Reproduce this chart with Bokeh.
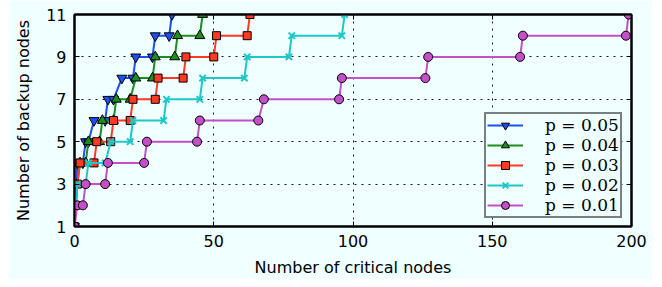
from bokeh.plotting import figure
from bokeh.models import Range1d, LinearAxis, FixedTicker, Legend, LegendItem
from bokeh.embed import file_html
from bokeh.resources import INLINE

# ---- data ----
x_p05 = [0, 1, 3, 4, 5, 7, 11, 12, 14, 17, 21, 22, 28, 29, 34, 35]
y_p05 = [1, 4, 4, 5, 5, 6, 6, 7, 7, 8, 8, 9, 9, 10, 10, 11]

x_p04 = [0, 1, 2, 4, 5, 9, 10, 14, 15, 20, 22, 28, 29, 36, 37, 45, 46]
y_p04 = [1, 3, 4, 4, 5, 5, 6, 6, 7, 7, 8, 8, 9, 9, 10, 10, 11]

x_p03 = [0, 1, 2, 7, 8, 13, 14, 20, 21, 29, 30, 39, 40, 50, 51, 62, 63]
y_p03 = [1, 3, 4, 4, 5, 5, 6, 6, 7, 7, 8, 8, 9, 9, 10, 10, 11]

x_p02 = [0, 1, 4, 5, 11, 13, 20, 21, 32, 33, 45, 46, 61, 62, 77, 78, 96, 97]
y_p02 = [1, 3, 3, 4, 4, 5, 5, 6, 6, 7, 7, 8, 8, 9, 9, 10, 10, 11]

x_p01 = [0, 1, 3, 4, 11, 12, 25, 26, 44, 45, 66, 68, 95, 96, 126, 127, 160, 161, 198, 199]
y_p01 = [1, 2, 2, 3, 3, 4, 4, 5, 5, 6, 6, 7, 7, 8, 8, 9, 9, 10, 10, 11]

labels = ["p = 0.05", "p = 0.04", "p = 0.03", "p = 0.02", "p = 0.01"]
x_ticks = [0, 50, 100, 150, 200]
y_ticks = [1, 3, 5, 7, 9, 11]

series = [
    (x_p05, y_p05, "#1a50f0", "inverted_triangle", 10),
    (x_p04, y_p04, "#1e8c1e", "triangle", 10),
    (x_p03, y_p03, "#ff3a22", "square", 8),
    (x_p02, y_p02, "#1ec8c8", "x", 9),
    (x_p01, y_p01, "#c450c8", "circle", 9),
]

BG = "#f0ffff"

p = figure(width=644, height=279, output_backend="svg", toolbar_location=None,
           x_range=Range1d(0, 200), y_range=Range1d(1, 11),
           min_border_left=66, min_border_right=21, min_border_top=14, min_border_bottom=48)
p.margin = (0, 0, 0, 8)
p.background_fill_color = BG
p.border_fill_color = BG
p.outline_line_color = "black"
p.outline_line_width = 2

# axes
for ax in (p.xaxis[0], p.yaxis[0]):
    ax.major_tick_in = 5
    ax.major_tick_out = 0
    ax.minor_tick_line_color = None
    ax.axis_line_width = 2
    ax.axis_line_color = "black"
    ax.major_tick_line_color = "black"
    ax.major_tick_line_width = 1
    ax.major_label_text_font = "DejaVu Sans"
    ax.major_label_text_font_size = "16px"
    ax.major_label_text_color = "black"
    ax.axis_label_text_font = "DejaVu Sans"
    ax.axis_label_text_font_size = "16px"
    ax.axis_label_text_font_style = "normal"
    ax.axis_label_text_color = "black"

p.xaxis[0].ticker = FixedTicker(ticks=x_ticks)
p.yaxis[0].ticker = FixedTicker(ticks=y_ticks)
p.xaxis[0].axis_label = "Number of critical nodes"
p.yaxis[0].axis_label = "Number of backup nodes"
p.xaxis[0].major_label_standoff = 8
p.xaxis[0].axis_label_standoff = 8
p.yaxis[0].major_label_standoff = 8
p.yaxis[0].axis_label_standoff = 10

top = LinearAxis(ticker=FixedTicker(ticks=x_ticks), major_label_text_color=None,
                 major_label_text_font_size="1px",
                 major_tick_in=5, major_tick_out=0, minor_tick_line_color=None,
                 axis_line_width=2, major_label_standoff=0)
right = LinearAxis(ticker=FixedTicker(ticks=y_ticks), major_label_text_color=None,
                   major_label_text_font_size="1px",
                   major_tick_in=5, major_tick_out=0, minor_tick_line_color=None,
                   axis_line_width=2, major_label_standoff=0)
p.add_layout(top, "above")
p.add_layout(right, "right")

# grid
p.xgrid.ticker = FixedTicker(ticks=x_ticks)
p.ygrid.ticker = FixedTicker(ticks=y_ticks)
for g in (p.xgrid[0], p.ygrid[0]):
    g.grid_line_color = "black"
    g.grid_line_dash = "2 5"
    g.grid_line_width = 1
    g.grid_line_alpha = 0.9

items = []
for (xs, ys, col, marker, size), lab in zip(series, labels):
    ln = p.line(xs, ys, line_color=col, line_width=2)
    if marker == "x":
        sc = p.scatter(xs, ys, marker="x", size=size, line_color=col, line_width=2)
    else:
        sc = p.scatter(xs, ys, marker=marker, size=size, fill_color=col,
                       line_color="black", line_width=1)
    items.append(LegendItem(label=lab, renderers=[ln, sc]))

legend = Legend(items=items, location=(410, 8))
legend.label_text_font = "DejaVu Serif"
legend.label_text_font_size = "17px"
legend.label_text_color = "black"
legend.glyph_width = 36
legend.glyph_height = 20
legend.label_height = 20
legend.label_width = 72
legend.label_standoff = 22
legend.spacing = 0
legend.padding = 1
legend.margin = 0
legend.border_line_color = "black"
legend.border_line_width = 2
legend.background_fill_color = BG
legend.background_fill_alpha = 1
p.add_layout(legend, "center")

open("out.html", "w").write(file_html(p, INLINE))
